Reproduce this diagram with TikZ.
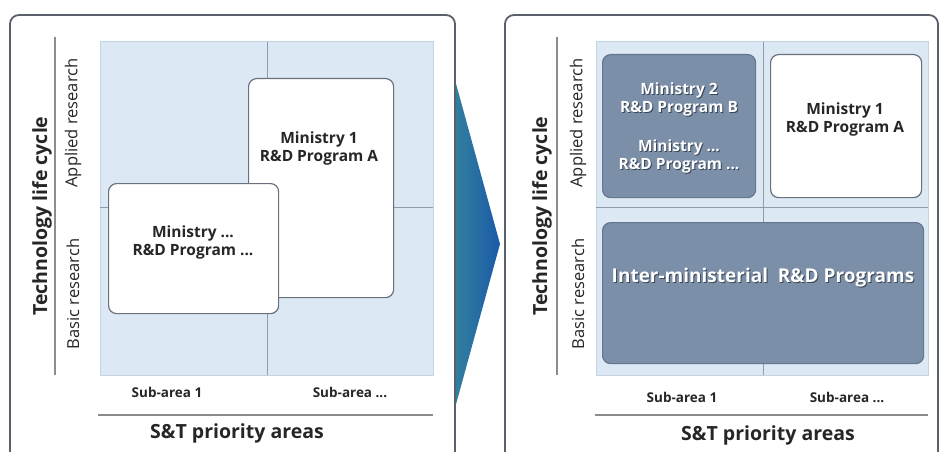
\documentclass[tikz,border=0pt]{standalone}
\usepackage{fontspec}
\setmainfont{Open Sans}
\definecolor{chevL}{HTML}{3A8C9C}
\definecolor{chevR}{HTML}{1A5AA8}
\definecolor{panelline}{HTML}{5A616C}
\definecolor{gridfill}{HTML}{DCE8F4}
\definecolor{gridedge}{HTML}{C2D4E6}
\definecolor{gridline}{HTML}{8E9CAC}
\definecolor{axisline}{HTML}{8C8C8C}
\definecolor{boxline}{HTML}{6A717C}
\definecolor{darkfill}{HTML}{7B8FA9}
\definecolor{darkline}{HTML}{64778F}
\definecolor{shadowc}{HTML}{3A4656}
\definecolor{txt}{HTML}{262626}
\begin{document}
\begin{tikzpicture}[x=1pt,y=-1pt,
  panel/.style={draw=panelline, line width=1.8pt, fill=white, rounded corners=9pt},
  grid/.style={fill=gridfill, draw=gridedge, line width=1pt},
  gline/.style={draw=gridline, line width=0.6pt},
  axis/.style={draw=axisline, line width=1.4pt},
  wbox/.style={draw=boxline, line width=1.2pt, fill=white, rounded corners=8pt, inner sep=0pt, anchor=north west},
  dbox/.style={draw=darkline, line width=1.2pt, fill=darkfill, rounded corners=8pt, inner sep=0pt, anchor=north west},
  title/.style={font=\fontsize{19.5}{22}\selectfont\bfseries, text=txt, inner sep=0pt},
  phase/.style={font=\fontsize{16.5}{18}\selectfont, text=txt, rotate=90, inner sep=0pt},
  sub/.style={font=\fontsize{13.5}{16}\selectfont\bfseries, text=txt, inner sep=0pt},
  btext/.style={font=\fontsize{15.5}{18}\selectfont\bfseries, text=txt, align=center, inner sep=0pt},
  wtext/.style={font=\fontsize{15.5}{18}\selectfont\bfseries, text=white, align=center, inner sep=0pt},
  stext/.style={font=\fontsize{15.5}{18}\selectfont\bfseries, text=shadowc, align=center, inner sep=0pt}
]
\useasboundingbox (0,0) rectangle (940,452);
\clip (0,0) rectangle (940,452);
% chevron between the panels
\shade[left color=chevL, right color=chevR] (440,80) -- (455,80) -- (500,244) -- (455,408) -- (440,408) -- cycle;

% ---------- left panel ----------
\draw[panel] (10,15) rectangle (455,490);
\draw[axis] (55,37) -- (55,375);
\node[title, rotate=90] (ltlc) at (42,216) {Technology life cycle};
\node[phase] (lapp) at (73,123) {Applied research};
\node[phase] (lbas) at (73,294) {Basic research};
\draw[grid] (100,42) rectangle (433,375);
\draw[gline] (267,42) -- (267,375);
\draw[gline] (100,207) -- (433,207);
\node[wbox, minimum width=145pt, minimum height=219pt] (lm1) at (248,78) {};
\node[btext] (lm1t) at (319,148) {Ministry 1\\R\&D Program A};
\node[wbox, minimum width=170pt, minimum height=130pt] (lmx) at (108,183) {};
\node[btext] (lmxt) at (193,242) {Ministry ...\\R\&D Program ...};
\node[sub] (ls1) at (167,392) {Sub-area 1};
\node[sub] (ls2) at (350,392) {Sub-area ...};
\draw[axis] (98,415) -- (433,415);
\node[title] (lst) at (237,433) {S\&T priority areas};

% ---------- right panel ----------
\draw[panel] (505,15) rectangle (938,490);
\draw[axis] (557,37) -- (557,375);
\node[title, rotate=90] (rtlc) at (542,216) {Technology life cycle};
\node[phase] (rapp) at (578,123) {Applied research};
\node[phase] (rbas) at (578,294) {Basic research};
\draw[grid] (596,42) rectangle (928,375);
\draw[gline] (763,42) -- (763,375);
\draw[gline] (596,207) -- (928,207);
\node[dbox, minimum width=153pt, minimum height=143pt] (rm2) at (602,54) {};
\node[stext] (rm2s) at (680,100) {Ministry 2\\R\&D Program B};
\node[wtext] (rm2t) at (679,99) {Ministry 2\\R\&D Program B};
\node[stext] (rmxs) at (680,157) {Ministry ...\\R\&D Program ...};
\node[wtext] (rmxt) at (679,156) {Ministry ...\\R\&D Program ...};
\node[wbox, minimum width=151pt, minimum height=143pt] (rm1) at (770,54) {};
\node[btext] (rm1t) at (845,119) {Ministry 1\\R\&D Program A};
\node[dbox, minimum width=321pt, minimum height=141pt] (rint) at (602,222) {};
\node[stext, font=\fontsize{19}{22}\selectfont\bfseries] (rints) at (764,279) {Inter-ministerial\ \ R\&D Programs};
\node[wtext, font=\fontsize{19}{22}\selectfont\bfseries] (rintt) at (763,278) {Inter-ministerial\ \ R\&D Programs};
\node[sub] (rs1) at (682,397) {Sub-area 1};
\node[sub] (rs2) at (847,397) {Sub-area ...};
\draw[axis] (595,415) -- (928,415);
\node[title] (rst) at (768,435) {S\&T priority areas};
\end{tikzpicture}
\end{document}
